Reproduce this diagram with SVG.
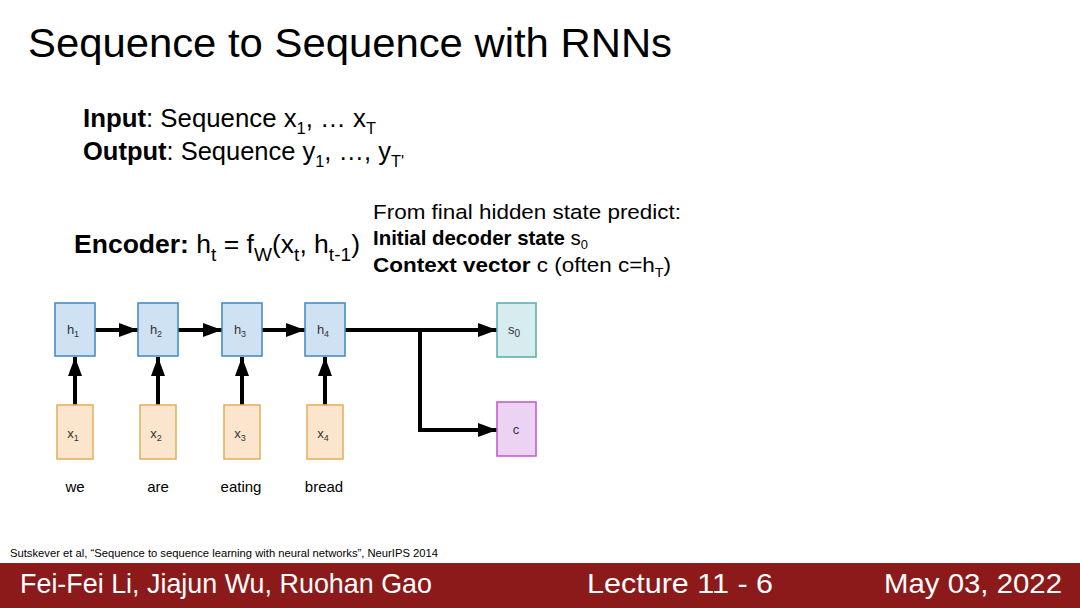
<svg xmlns="http://www.w3.org/2000/svg" width="1080" height="608" viewBox="0 0 1080 608">
<defs>
<style>
text{font-family:"Liberation Sans",Arial,sans-serif;fill:#000}
.b{font-weight:bold}
.node text{fill:#333;font-size:13px;text-anchor:middle}
.hb{fill:#cfe2f3;stroke:#4a8cc4;stroke-width:1.6}
.xb{fill:#fce5cd;stroke:#e0b460;stroke-width:1.6}
.sb{fill:#d6ecee;stroke:#63adb3;stroke-width:1.6}
.cb{fill:#ecd3f3;stroke:#c35fcc;stroke-width:1.6}
.conn{stroke:#000;stroke-width:4;fill:none}
.word{font-size:15px;text-anchor:middle}
.foot{fill:#fff;font-size:28px}
</style>
<marker id="ah" markerUnits="userSpaceOnUse" markerWidth="20" markerHeight="16" refX="19" refY="7" orient="auto">
<path d="M0,0 L19,7 L0,14 z" fill="#000"/>
</marker>
</defs>
<rect width="1080" height="608" fill="#fff"/>

<text x="28" y="57" font-size="40" textLength="644" lengthAdjust="spacingAndGlyphs">Sequence to Sequence with RNNs</text>

<text x="83" y="127" font-size="25" textLength="293" lengthAdjust="spacingAndGlyphs"><tspan class="b">Input</tspan>: Sequence x<tspan font-size="16" dy="7">1</tspan><tspan dy="-7">, … x</tspan><tspan font-size="16" dy="7">T</tspan></text>
<text x="83" y="160" font-size="25" textLength="321" lengthAdjust="spacingAndGlyphs"><tspan class="b">Output</tspan>: Sequence y<tspan font-size="16" dy="7">1</tspan><tspan dy="-7">, …, y</tspan><tspan font-size="16" dy="7">T'</tspan></text>

<text x="74" y="253" font-size="25" textLength="286" lengthAdjust="spacingAndGlyphs"><tspan class="b">Encoder:</tspan> h<tspan font-size="18" dy="8">t</tspan><tspan dy="-8"> = f</tspan><tspan font-size="18" dy="8">W</tspan><tspan dy="-8">(x</tspan><tspan font-size="18" dy="8">t</tspan><tspan dy="-8">, h</tspan><tspan font-size="18" dy="8">t-1</tspan><tspan dy="-8">)</tspan></text>

<text x="373" y="219" font-size="20.5" textLength="308" lengthAdjust="spacingAndGlyphs">From final hidden state predict:</text>
<text x="373" y="245" font-size="20.5" textLength="215" lengthAdjust="spacingAndGlyphs"><tspan class="b">Initial decoder state</tspan> s<tspan font-size="13" dy="4">0</tspan></text>
<text x="373" y="272" font-size="20.5" textLength="298" lengthAdjust="spacingAndGlyphs"><tspan class="b">Context vector</tspan> c (often c=h<tspan font-size="13" dy="5">T</tspan><tspan dy="-5">)</tspan></text>

<g id="connectors">
<line class="conn" x1="95" y1="330" x2="138" y2="330" marker-end="url(#ah)"/>
<line class="conn" x1="178" y1="330" x2="222" y2="330" marker-end="url(#ah)"/>
<line class="conn" x1="262" y1="330" x2="305" y2="330" marker-end="url(#ah)"/>
<line class="conn" x1="345" y1="330" x2="497" y2="330" marker-end="url(#ah)"/>
<polyline class="conn" points="420,328 420,430 497,430" marker-end="url(#ah)"/>
<line class="conn" x1="75" y1="405" x2="75" y2="357" marker-end="url(#ah)"/>
<line class="conn" x1="158" y1="405" x2="158" y2="357" marker-end="url(#ah)"/>
<line class="conn" x1="242" y1="405" x2="242" y2="357" marker-end="url(#ah)"/>
<line class="conn" x1="325" y1="405" x2="325" y2="357" marker-end="url(#ah)"/>
</g>

<g id="h1" class="node"><rect class="hb" x="55" y="303" width="40" height="53"/><text x="73" y="334">h<tspan font-size="9" dy="3">1</tspan></text></g>
<g id="h2" class="node"><rect class="hb" x="138" y="303" width="40" height="53"/><text x="156" y="334">h<tspan font-size="9" dy="3">2</tspan></text></g>
<g id="h3" class="node"><rect class="hb" x="222" y="303" width="40" height="53"/><text x="240" y="334">h<tspan font-size="9" dy="3">3</tspan></text></g>
<g id="h4" class="node"><rect class="hb" x="305" y="303" width="40" height="53"/><text x="323" y="334">h<tspan font-size="9" dy="3">4</tspan></text></g>

<g id="x1" class="node"><rect class="xb" x="57" y="405" width="36" height="54"/><text x="73" y="438">x<tspan font-size="9" dy="3">1</tspan></text></g>
<g id="x2" class="node"><rect class="xb" x="140" y="405" width="36" height="54"/><text x="156" y="438">x<tspan font-size="9" dy="3">2</tspan></text></g>
<g id="x3" class="node"><rect class="xb" x="224" y="405" width="36" height="54"/><text x="240" y="438">x<tspan font-size="9" dy="3">3</tspan></text></g>
<g id="x4" class="node"><rect class="xb" x="307" y="405" width="36" height="54"/><text x="323" y="438">x<tspan font-size="9" dy="3">4</tspan></text></g>

<g id="s0" class="node"><rect class="sb" x="497" y="303" width="39" height="54"/><text x="514" y="334">s<tspan font-size="10" dy="3">0</tspan></text></g>
<g id="c" class="node"><rect class="cb" x="497" y="402" width="39" height="54"/><text x="516" y="434">c</text></g>

<text class="word" x="75" y="492">we</text>
<text class="word" x="158" y="492">are</text>
<text class="word" x="241" y="492">eating</text>
<text class="word" x="324" y="492">bread</text>

<text x="10" y="557" font-size="10.5" textLength="428" lengthAdjust="spacingAndGlyphs">Sutskever et al, “Sequence to sequence learning with neural networks”, NeurIPS 2014</text>

<rect x="0" y="563" width="1080" height="45" fill="#8c1a1a"/>
<text class="foot" x="20" y="593" font-size="27" textLength="412" lengthAdjust="spacingAndGlyphs">Fei-Fei Li, Jiajun Wu, Ruohan Gao</text>
<text class="foot" x="587" y="593" textLength="186" lengthAdjust="spacingAndGlyphs">Lecture 11 -  6</text>
<text class="foot" x="884" y="593" textLength="178" lengthAdjust="spacingAndGlyphs">May 03, 2022</text>
</svg>
